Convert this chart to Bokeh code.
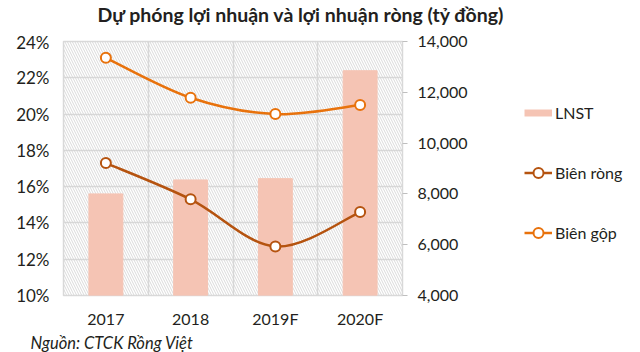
import numpy as np
from bokeh.plotting import figure
from bokeh.layouts import row, column
from bokeh.models import (LinearAxis, Range1d, FixedTicker, NumeralTickFormatter,
                          PrintfTickFormatter, Legend, LegendItem, BoxAnnotation, Title)
from bokeh.embed import file_html
from bokeh.resources import INLINE

years = ["2017", "2018", "2019F", "2020F"]
lnst = [8000, 8550, 8600, 12850]
bien_rong = [17.3, 15.3, 12.7, 14.6]
bien_gop = [23.1, 20.9, 20.0, 20.5]
pct_ticks = [10, 12, 14, 16, 18, 20, 22, 24]
lnst_ticks = [4000, 6000, 8000, 10000, 12000, 14000]

FONT = "Lato"
TXT = "#231f20"
C_BAR = "#f5c4b4"
C_RONG = "#b5530f"
C_GOP = "#e8720c"

xs = list(range(len(years)))

# title strip
tf = figure(width=640, height=31, output_backend="svg", toolbar_location=None,
            x_axis_location=None, y_axis_location=None, min_border=0)
tf.outline_line_color = None
tf.grid.visible = False
tf.title.text = "Dự phóng lợi nhuận và lợi nhuận ròng (tỷ đồng)"
tf.title.align = "left"
tf.title.offset = 97
tf.title.standoff = 0
tf.title.text_font = FONT
tf.title.text_font_size = "19.5px"
tf.title.text_font_style = "bold"
tf.title.text_color = TXT

p = figure(width=470, height=321, output_backend="svg", toolbar_location=None,
           x_range=Range1d(-0.5, len(years) - 0.5), y_range=Range1d(pct_ticks[0], pct_ticks[-1]),
           min_border_left=63, min_border_right=63, min_border_top=10, min_border_bottom=54)
p.extra_y_ranges = {"lnst": Range1d(lnst_ticks[0], lnst_ticks[-1])}

p.outline_line_color = "#d9d9d9"
p.outline_line_width = 1.5

# hatched plot background
p.add_layout(BoxAnnotation(fill_alpha=0, line_alpha=0, hatch_pattern="\\",
                           hatch_color="#d0d0d0", hatch_scale=5, hatch_weight=0.8,
                           level="underlay"))

p.xgrid.ticker = FixedTicker(ticks=[i - 0.5 for i in range(len(years) + 1)])
p.ygrid.ticker = FixedTicker(ticks=pct_ticks)
for g in (p.xgrid, p.ygrid):
    g.grid_line_color = "#dadada"
    g.grid_line_width = 1.5

p.vbar(x=xs, top=lnst, bottom=lnst_ticks[0], width=0.4, color=C_BAR, y_range_name="lnst")


def smooth(xv, yv):
    P = [np.array([a, b], dtype=float) for a, b in zip(xv, yv)]
    n = len(P)
    seg = {k: [] for k in ("x0", "y0", "x1", "y1", "cx0", "cy0", "cx1", "cy1")}
    for i in range(n - 1):
        p0 = P[i - 1] if i > 0 else P[i]
        p1, p2 = P[i], P[i + 1]
        p3 = P[i + 2] if i + 2 < n else P[i + 1]
        c1 = p1 + (p2 - p0) / 6
        c2 = p2 - (p3 - p1) / 6
        seg["x0"].append(p1[0]); seg["y0"].append(p1[1])
        seg["x1"].append(p2[0]); seg["y1"].append(p2[1])
        seg["cx0"].append(c1[0]); seg["cy0"].append(c1[1])
        seg["cx1"].append(c2[0]); seg["cy1"].append(c2[1])
    return seg


p.bezier(line_color=C_RONG, line_width=2.5, **smooth(xs, bien_rong))
p.scatter(xs, bien_rong, size=10, fill_color="white", line_color=C_RONG, line_width=2)
p.bezier(line_color=C_GOP, line_width=2.5, **smooth(xs, bien_gop))
p.scatter(xs, bien_gop, size=10, fill_color="white", line_color=C_GOP, line_width=2)

# axes
p.yaxis.ticker = FixedTicker(ticks=pct_ticks)
p.yaxis.formatter = PrintfTickFormatter(format="%d%%")
p.xaxis.ticker = FixedTicker(ticks=xs)
p.xaxis.major_label_overrides = {i: y for i, y in enumerate(years)}

ax_r = LinearAxis(y_range_name="lnst", ticker=FixedTicker(ticks=lnst_ticks),
                  formatter=NumeralTickFormatter(format="0,0"))
p.add_layout(ax_r, "right")

for ax in (p.xaxis[0], p.yaxis[0], ax_r):
    ax.axis_line_color = None
    ax.major_tick_line_color = None
    ax.minor_tick_line_color = None
    ax.major_tick_in = 0
    ax.major_tick_out = 0
    ax.major_label_text_font = FONT
    ax.major_label_text_font_size = "16px"
    ax.major_label_text_color = TXT
p.yaxis[0].major_label_text_font_size = "17px"
p.yaxis[0].major_label_standoff = 14
p.xaxis[0].major_label_standoff = 13
ax_r.major_tick_line_color = "#bfbfbf"
ax_r.major_tick_out = 5
ax_r.major_label_standoff = 10

src = Title(text="Nguồn: CTCK Rồng Việt", align="left", offset=-33,
            text_font=FONT, text_font_size="16.5px", text_font_style="italic",
            text_color=TXT, standoff=0)
p.add_layout(src, "below")

# legend panel (separate figure, its own renderers kept out of view)
lf = figure(width=170, height=321, output_backend="svg", toolbar_location=None,
            x_axis_location=None, y_axis_location=None,
            x_range=Range1d(100, 101), y_range=Range1d(100, 101),
            min_border=0)
lf.outline_line_color = None
lf.grid.visible = False
k_bar = lf.line(xs, lnst, line_color=C_BAR, line_width=7)
k_rong_l = lf.line(xs, bien_rong, line_color=C_RONG, line_width=2.5)
k_rong_p = lf.scatter(xs, bien_rong, fill_color="white", line_color=C_RONG, line_width=2)
k_gop_l = lf.line(xs, bien_gop, line_color=C_GOP, line_width=2.5)
k_gop_p = lf.scatter(xs, bien_gop, fill_color="white", line_color=C_GOP, line_width=2)

legend = Legend(items=[LegendItem(label="LNST", renderers=[k_bar]),
                       LegendItem(label="Biên ròng", renderers=[k_rong_l, k_rong_p]),
                       LegendItem(label="Biên gộp", renderers=[k_gop_l, k_gop_p])],
                location=(54, 50), orientation="vertical",
                background_fill_alpha=0, border_line_alpha=0, padding=0, margin=0,
                spacing=35, glyph_width=28, glyph_height=25, label_height=25,
                label_standoff=3, label_text_font=FONT, label_text_font_size="16px",
                label_text_color=TXT)
lf.add_layout(legend)

open("out.html", "w").write(file_html(column(tf, row(p, lf)), INLINE))
